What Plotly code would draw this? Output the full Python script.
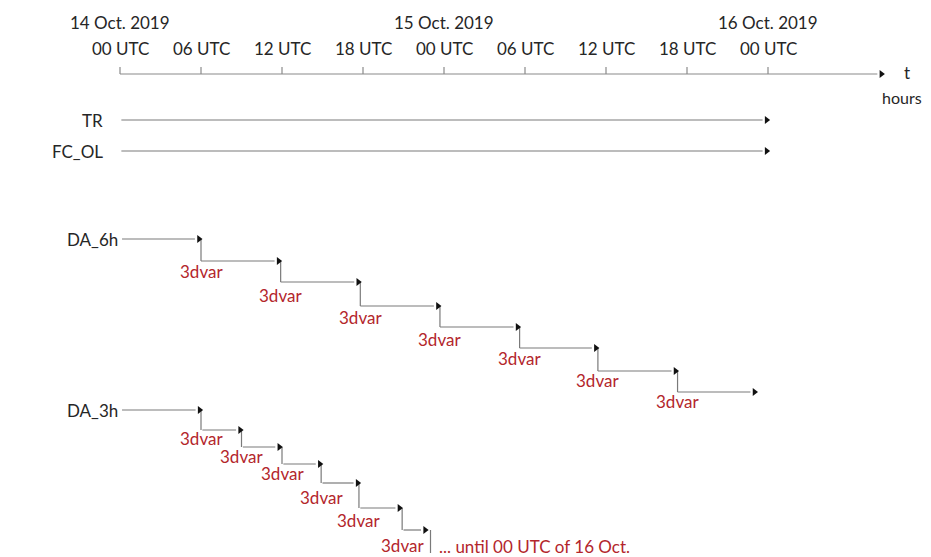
import plotly.graph_objects as go

# ---------------- data (times in hours from 14 Oct. 2019 00 UTC) ----------------
tick_hours = [0, 6, 12, 18, 24, 30, 36, 42, 48]
tick_labels = ["00 UTC", "06 UTC", "12 UTC", "18 UTC", "00 UTC", "06 UTC", "12 UTC", "18 UTC", "00 UTC"]
date_hours = [0, 24, 48]
date_labels = ["14 Oct. 2019", "15 Oct. 2019", "16 Oct. 2019"]
axis_end = 56.4

run_names = ["TR", "FC_OL"]
run_start = [0.1, 0.1]
run_end = [47.9, 47.9]

da6_cycles = [6.0, 11.9, 17.8, 23.7, 29.6, 35.4, 41.3]   # analysis (3dvar) times
da6_end = 47.0
da3_cycles = [6.0, 9.0, 12.0, 14.9, 17.7, 20.9, 23.0]
da3_ends = [8.9, 11.8, 14.8, 17.6, 20.7, 22.6]          # arrow tips of short forecasts

note_text = "... until 00 UTC of 16 Oct."

# ---------------- layout positions / styles ----------------
PAGE_W, PAGE_H = 931, 557
OFF = 8                      # default page margin around the figure
W, H = PAGE_W - OFF, PAGE_H - OFF
X0, PX_PER_H = 120, 13.5
xr = [(OFF - X0) / PX_PER_H, (PAGE_W - X0) / PX_PER_H]
Y_AXIS = 74
Y_TICKLAB = 48
Y_DATE = 22
run_y = [120, 151]
da6_levels = [239, 261, 282, 306, 327, 348, 371, 392]
da6_label_y = [271, 295, 317, 339, 358, 380, 401]
da3_levels = [410, 430, 447, 464, 483, 508, 530]
da3_label_y = [438, 456, 473, 497, 520, 545]
da3_last_bottom = 553

FONT = "Lato"
TXT = "#262626"
RED = "#b3262c"
LINE = "#7a7a7a"
HEAD = "#111111"

fig = go.Figure()


def seg(xs, ys, color=LINE, width=1.2):
    fig.add_trace(go.Scatter(x=xs, y=ys, mode="lines", line=dict(color=color, width=width),
                             hoverinfo="skip", showlegend=False))


def heads(xs, ys, size=7):
    fig.add_trace(go.Scatter(x=xs, y=ys, mode="markers",
                             marker=dict(symbol="triangle-right", size=size, color=HEAD, line=dict(width=0)),
                             hoverinfo="skip", showlegend=False))


def text(x, y, s, color=TXT, xanchor="center", size=17):
    fig.add_annotation(x=x, y=y, text=s, showarrow=False, xanchor=xanchor, yanchor="middle",
                       font=dict(family=FONT, size=size, color=color))


# time axis
seg([0, axis_end - 0.3], [Y_AXIS, Y_AXIS], color="#8a8a8a")
heads([axis_end], [Y_AXIS])
tx, ty = [], []
for h in tick_hours:
    tx += [h, h, None]
    ty += [Y_AXIS, Y_AXIS - 7, None]
seg(tx, ty, color="#8a8a8a")
for h, lab in zip(tick_hours, tick_labels):
    text(h, Y_TICKLAB, lab)
for h, lab in zip(date_hours, date_labels):
    text(h, Y_DATE, lab)
text(58.3, 72, "t")
text(57.9, 97, "hours", size=16)

# TR / FC_OL
for name, s, e, y in zip(run_names, run_start, run_end, run_y):
    seg([s, e - 0.3], [y, y])
    heads([e], [y])
    text(-1.1, y, name, xanchor="right")

# DA_6h
text(-4.1, da6_levels[0], "DA_6h", xanchor="left")
starts = [0.15] + da6_cycles
ends = [c - 0.15 for c in da6_cycles] + [da6_end]
hx, hy = [], []
for i, (s, e) in enumerate(zip(starts, ends)):
    seg([s, e - 0.3], [da6_levels[i], da6_levels[i]])
    hx.append(e)
    hy.append(da6_levels[i])
    if i < len(da6_cycles):
        c = da6_cycles[i]
        seg([c, c], [da6_levels[i], da6_levels[i + 1]])
heads(hx, hy)
for c, ly in zip(da6_cycles, da6_label_y):
    text(c, ly, "3dvar", color=RED)

# DA_3h
text(-4.1, da3_levels[0], "DA_3h", xanchor="left")
starts3 = [0.15] + [c + 0.1 for c in da3_cycles[:-1]]
ends3 = [da3_cycles[0] - 0.1] + da3_ends
hx, hy = [], []
for i, (s, e) in enumerate(zip(starts3, ends3)):
    seg([s, e - 0.3], [da3_levels[i], da3_levels[i]])
    hx.append(e)
    hy.append(da3_levels[i])
for i, c in enumerate(da3_cycles):
    bottom = da3_levels[i + 1] if i + 1 < len(da3_levels) else da3_last_bottom
    seg([c, c], [da3_levels[i], bottom])
heads(hx, hy)
for c, ly in zip(da3_cycles[:-1], da3_label_y):
    text(c, ly, "3dvar", color=RED)
text(23.5, 546, note_text, color=RED, xanchor="left")

fig.update_layout(
    width=W, height=H, margin=dict(l=0, r=0, t=0, b=0),
    paper_bgcolor="white", plot_bgcolor="white",
    xaxis=dict(range=xr, visible=False, fixedrange=True),
    yaxis=dict(range=[PAGE_H, OFF], visible=False, fixedrange=True),
    showlegend=False,
)
fig.write_html("out.html")
